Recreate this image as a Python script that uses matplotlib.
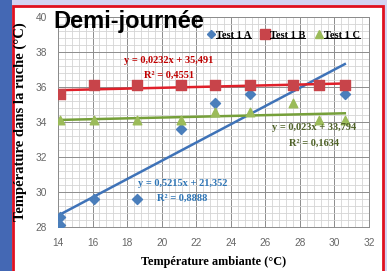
import numpy as np
import matplotlib
matplotlib.use('Agg')
import matplotlib.pyplot as plt
from matplotlib.patches import Rectangle
from matplotlib.lines import Line2D

# data
xa = [14.1, 14.1, 16.1, 18.6, 21.1, 23.1, 25.1, 30.6]
ya = [28.1, 28.6, 29.6, 29.6, 33.6, 35.1, 35.6, 35.6]
xb = [14.1, 16.1, 18.6, 21.1, 23.1, 25.1, 27.6, 29.1, 30.6]
yb = [35.6, 36.1, 36.1, 36.1, 36.1, 36.1, 36.1, 36.1, 36.1]
xc = [14.1, 16.1, 18.6, 21.1, 23.1, 25.1, 27.6, 29.1, 30.6]
yc = [34.1, 34.1, 34.1, 34.1, 34.6, 34.6, 35.1, 34.1, 34.1]

# trend lines (slope, intercept, r2) as printed on the chart
fit_a = (0.5215, 21.352, 0.8888)
fit_b = (0.0232, 35.491, 0.4551)
fit_c = (0.023, 33.794, 0.1634)

labels = ['Test 1 A', 'Test 1 B', 'Test 1 C']
xticks = [14, 16, 18, 20, 22, 24, 26, 28, 30, 32]
yticks = [28, 30, 32, 34, 36, 38, 40]

W, H = 387, 271
fig = plt.figure(figsize=(W / 100, H / 100), dpi=100)
fig.patch.set_facecolor('#d3d3f2')
fig.patches.append(Rectangle((0, 0), 12 / W, 1, transform=fig.transFigure,
                             facecolor='#4468b4', edgecolor='none', zorder=-2))
fig.patches.append(Rectangle((13 / W, -0.05), 370 / W, 1 - 6 / H + 0.05,
                             transform=fig.transFigure, facecolor='white',
                             edgecolor='#e01020', lw=2, zorder=-1))

ax = fig.add_axes([58 / W, 44 / H, 311 / W, 210 / H])
ax.set_xlim(14, 32)
ax.set_ylim(28, 40)
ax.set_xticks(xticks)
ax.set_yticks(yticks)
ax.set_xticks(np.arange(14, 32.01, 0.4), minor=True)
ax.set_yticks(np.arange(28, 40.01, 0.4), minor=True)
ax.grid(which='major', color='#8c8c8c', lw=0.7)
ax.grid(which='minor', color='#d4d4d4', lw=0.6)
ax.set_axisbelow(True)
ax.tick_params(which='both', length=0)
ax.tick_params(labelsize=7.3, labelcolor='#666666', pad=8)
for s in ax.spines.values():
    s.set_color('#8c8c8c')
    s.set_linewidth(0.7)
for t in ax.get_xticklabels() + ax.get_yticklabels():
    t.set_family('Liberation Sans')

# trend lines
def trend(xs, fit, color):
    xx = np.array([min(xs), max(xs)])
    ax.plot(xx, fit[0] * xx + fit[1], color=color, lw=1.8, zorder=2)

trend(xa, fit_a, '#3f73b8')
trend(xb, fit_b, '#e0202a')
trend(xc, fit_c, '#76a03a')

ax.scatter(xa, ya, marker='D', s=26, color='#4a7ebb', zorder=3)
ax.scatter(xb, yb, marker='s', s=50, color='#c8444a', zorder=3)
ax.scatter(xc, yc, marker='^', s=38, color='#9bbb59', zorder=3)

ef = dict(family='Liberation Serif', weight='bold', fontsize=7.5, ha='center', va='center')
def eq(fit, x, y, color):
    s = 'y = ' + ('%g' % fit[0]).replace('.', ',') + 'x + ' + ('%g' % fit[1]).replace('.', ',')
    ax.text(x, y, s, color=color, **ef)
    ax.text(x, y - 0.85, 'R² = ' + ('%.4f' % fit[2]).replace('.', ','), color=color, **ef)

eq(fit_b, 20.4, 37.5, '#c00000')
eq(fit_c, 28.8, 33.66, '#4f6228')
eq(fit_a, 21.2, 30.5, '#2e75b6')

handles = [Line2D([], [], ls='', marker='D', ms=4.5, color='#4a7ebb'),
           Line2D([], [], ls='', marker='s', ms=7, color='#c8444a'),
           Line2D([], [], ls='', marker='^', ms=6, color='#9bbb59')]
leg = ax.legend(handles, labels, ncol=3, loc='center right', bbox_to_anchor=(0.985, 0.914),
                frameon=False, handlelength=0.6, handletextpad=0.2,
                columnspacing=1.0, borderaxespad=0.0,
                prop=dict(family='Liberation Serif', weight='bold', size=7.5))

ax.set_xlabel('Température ambiante (°C)', family='Liberation Serif',
              weight='bold', fontsize=8.8, va='center')
ax.xaxis.set_label_coords(0.5, -0.167)
ax.set_ylabel('Température dans la ruche (°C)', family='Liberation Serif',
              weight='bold', fontsize=10.5, va='center')
ax.yaxis.set_label_coords(-0.122, 0.5)

fig.text(53 / W, 1 - 28 / H, 'Demi-journée', family='Liberation Sans',
         weight='bold', fontsize=17, va='baseline', ha='left')

# underline legend entries
fig.canvas.draw()
r = fig.canvas.get_renderer()
for t in leg.get_texts():
    bb = t.get_window_extent(r)
    yy = (bb.y0 + 1.5) / H
    fig.add_artist(Line2D([bb.x0 / W, bb.x1 / W], [yy, yy], transform=fig.transFigure,
                          color='black', lw=0.7))

fig.savefig('out.png', dpi=100, facecolor=fig.get_facecolor())
